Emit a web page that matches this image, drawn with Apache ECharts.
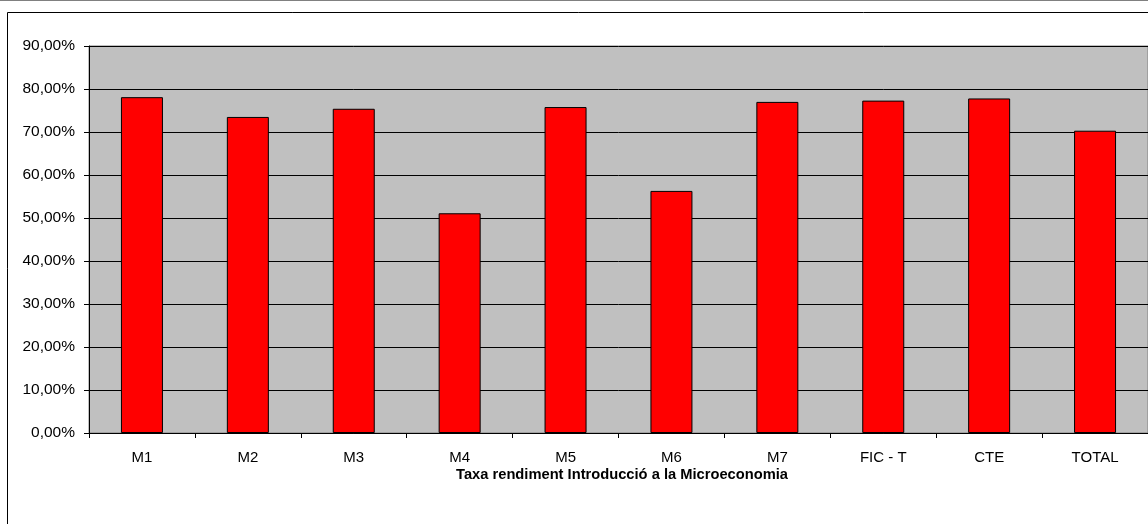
<!DOCTYPE html>
<html>
<head>
<meta charset="utf-8">
<script src="https://cdn.jsdelivr.net/npm/echarts@6/dist/echarts.min.js"></script>
<style>
  html, body { margin: 0; padding: 0; background: #fff; }
  #chart-container { width: 1148px; height: 524px; }
</style>
</head>
<body>
<div id="chart-container"></div>
<script>
var dom = document.getElementById("chart-container");
var myChart = echarts.init(dom, null, { renderer: "canvas" });

var chart_title = "Taxa rendiment Introducció a la Microeconomia";
var categories = ["M1", "M2", "M3", "M4", "M5", "M6", "M7", "FIC - T", "CTE", "TOTAL"];
var rates = [78.1, 73.5, 75.4, 51.1, 75.8, 56.3, 77.0, 77.3, 77.8, 70.3];

var font = "'Liberation Sans', Arial, sans-serif";

var option = {
  animation: false,
  backgroundColor: "#ffffff",
  graphic: [
    // top rule and outer chart frame (cut off at right/bottom)
    { type: "line", shape: { x1: 0, y1: 0.5, x2: 1148, y2: 0.5 }, style: { stroke: "#808080", lineWidth: 1 } },
    { type: "rect", shape: { x: 7.5, y: 12.5, width: 1160, height: 540 }, style: { fill: null, stroke: "#000", lineWidth: 1 } },
  ],
  title: {
    text: chart_title,
    left: 617,
    top: 462,
    textAlign: "center",
    textStyle: { fontFamily: font, fontSize: 14.7, fontWeight: "bold", color: "#000" },
  },
  grid: {
    left: 89,
    top: 46,
    right: -1,
    bottom: 91,
    show: true,
    backgroundColor: "#c0c0c0",
    borderColor: "#808080",
    borderWidth: 1,
  },
  xAxis: {
    type: "category",
    data: categories,
    boundaryGap: true,
    axisLine: { show: true, lineStyle: { color: "#000", width: 1 } },
    axisTick: { show: true, length: 5, alignWithLabel: false, lineStyle: { color: "#000" } },
    axisLabel: { fontFamily: font, fontSize: 15, color: "#000", margin: 17 },
    splitLine: { show: false },
  },
  yAxis: {
    type: "value",
    min: 0,
    max: 90,
    interval: 10,
    axisLine: { show: true, lineStyle: { color: "#000", width: 1 } },
    axisTick: { show: true, length: 5, lineStyle: { color: "#000" } },
    axisLabel: {
      fontFamily: font,
      fontSize: 15.5,
      color: "#000",
      margin: 14,
      formatter: function (v) { return v.toFixed(2).replace(".", ",") + "%"; },
    },
    splitLine: { show: true, lineStyle: { color: "#000", width: 1 } },
  },
  series: [
    {
      type: "bar",
      data: rates,
      barWidth: 42,
      itemStyle: { color: "#ff0000", borderColor: "#000", borderWidth: 1 },
    },
  ],
};

myChart.setOption(option);
</script>
</body>
</html>
